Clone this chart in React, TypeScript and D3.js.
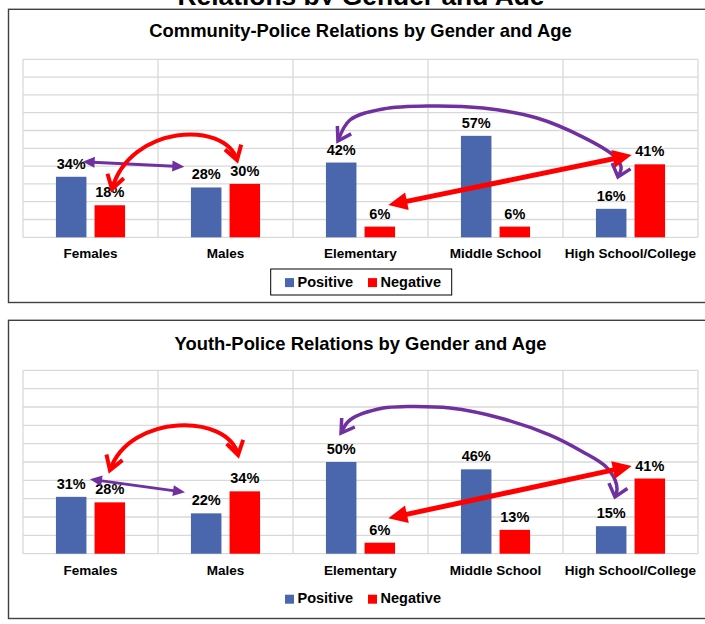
import React from 'react';
import * as d3 from 'd3';

// ---- data -------------------------------------------------------------
const categories = ['Females', 'Males', 'Elementary', 'Middle School', 'High School/College'];
const seriesNames = ['Positive', 'Negative'];

const communityPositive = [34, 28, 42, 57, 16];
const communityNegative = [18, 30, 6, 6, 41];

const youthPositive = [31, 22, 50, 46, 15];
const youthNegative = [28, 34, 6, 13, 41];

const yTicks = [0, 10, 20, 30, 40, 50, 60, 70, 80, 90, 100];

// Annotation arrows, in chart units: [category position (0..5), percent]
type Pt = [number, number];

const communityGenderLink: Pt[] = [[0.442, 42.5], [1.195, 39.7]];
const communityAgeLink: Pt[] = [[2.706, 18.1], [4.509, 46.2]];
const communityGenderArc: Pt[] = [[0.659, 27.1], [0.793, 63.1], [1.496, 65.9], [1.585, 43.4]];
const communityAgeArc: Pt[] = [
  [2.333, 54.1], [2.422, 65.9], [2.667, 72.1], [3.015, 73.8], [3.407, 72.6],
  [3.807, 67.0], [4.148, 56.3], [4.37, 46.2], [4.43, 39.5], [4.407, 33.9],
];

const youthGenderLink: Pt[] = [[0.496, 40.6], [1.2, 33.5]];
const youthAgeLink: Pt[] = [[2.706, 19.3], [4.509, 47.8]];
const youthGenderArc: Pt[] = [[0.644, 45.6], [0.793, 76.7], [1.519, 76.7], [1.593, 53.8]];
const youthAgeArc: Pt[] = [
  [2.356, 65.8], [2.422, 72.9], [2.667, 79.4], [2.844, 80.2], [3.163, 79.4],
  [3.533, 74.0], [3.904, 64.7], [4.148, 55.5], [4.311, 47.9], [4.385, 40.3],
  [4.4, 34.8], [4.385, 31.0],
];

// ---- styling ----------------------------------------------------------
const FONT = '"Liberation Sans", Arial, Helvetica, sans-serif';
const BLUE = '#4A66AC';
const RED = '#FF0000';
const PURPLE = '#7030A0';
const GRID = '#d9d9d9';
const PLOT_LEFT = 23;
const PLOT_RIGHT = 698;

type XY = [number, number];

function unit(dx: number, dy: number): XY {
  const l = Math.hypot(dx, dy) || 1;
  return [dx / l, dy / l];
}

function straightArrow(a: XY, b: XY, headLen: number, headHalf: number) {
  const [ux, uy] = unit(b[0] - a[0], b[1] - a[1]);
  const nx = -uy;
  const ny = ux;
  const head = (tip: XY, dx: number, dy: number) => {
    const bx = tip[0] - dx * headLen;
    const by = tip[1] - dy * headLen;
    return `M${tip[0]},${tip[1]}L${bx + nx * headHalf},${by + ny * headHalf}L${bx - nx * headHalf},${by - ny * headHalf}Z`;
  };
  const k = headLen * 0.85;
  const shaft = `M${a[0] + ux * k},${a[1] + uy * k}L${b[0] - ux * k},${b[1] - uy * k}`;
  return { shaft, heads: [head(a, -ux, -uy), head(b, ux, uy)] };
}

function chevron(tip: XY, from: XY, len: number, angleDeg: number) {
  const [ux, uy] = unit(from[0] - tip[0], from[1] - tip[1]);
  const rot = (ang: number): XY => [
    tip[0] + len * (ux * Math.cos(ang) - uy * Math.sin(ang)),
    tip[1] + len * (ux * Math.sin(ang) + uy * Math.cos(ang)),
  ];
  const a = (angleDeg * Math.PI) / 180;
  const p1 = rot(a);
  const p2 = rot(-a);
  return `M${p1[0]},${p1[1]}L${tip[0]},${tip[1]}L${p2[0]},${p2[1]}`;
}

interface PanelProps {
  frameTop: number;
  frameBottom: number;
  title: string;
  titleY: number;
  plotTop: number;
  plotBottom: number;
  catLabelY: number;
  legendY: number;
  legendBox: boolean;
  positive: number[];
  negative: number[];
  genderLink: Pt[];
  ageLink: Pt[];
  genderArc: Pt[];
  ageArc: Pt[];
}

function Panel(p: PanelProps) {
  const x0 = d3.scaleBand<string>().domain(categories).range([PLOT_LEFT, PLOT_RIGHT]);
  const xPos = d3.scaleLinear().domain([0, categories.length]).range([PLOT_LEFT, PLOT_RIGHT]);
  const y = d3.scaleLinear().domain([0, 100]).range([p.plotBottom, p.plotTop]);
  const bw = x0.bandwidth();
  const groupW = bw * 0.512;
  const x1 = d3
    .scaleBand<string>()
    .domain(seriesNames)
    .range([(bw - groupW) / 2, (bw + groupW) / 2])
    .paddingInner(0.21);

  const toPx = (pt: Pt): XY => [xPos(pt[0]), y(pt[1])];
  const values = [p.positive, p.negative];
  const colors = [BLUE, RED];
  const cx = (PLOT_LEFT + PLOT_RIGHT) / 2;

  // straight double-headed arrows
  const gl = straightArrow(toPx(p.genderLink[0]), toPx(p.genderLink[1]), 12, 5.5);
  const al = straightArrow(toPx(p.ageLink[0]), toPx(p.ageLink[1]), 19, 9);

  // red arc (cubic Bezier)
  const ga = p.genderArc.map(toPx);
  const gaPath = `M${ga[0][0]},${ga[0][1]}C${ga[1][0]},${ga[1][1]} ${ga[2][0]},${ga[2][1]} ${ga[3][0]},${ga[3][1]}`;

  // purple arc (smooth curve through points)
  const aa = p.ageArc.map(toPx);
  const aaPath = d3.line().curve(d3.curveCatmullRom.alpha(0.5))(aa) || '';
  const n = aa.length;

  return (
    <g>
      <rect
        x={8.5}
        y={p.frameTop}
        width={720}
        height={p.frameBottom - p.frameTop}
        fill="#fff"
        stroke="#404040"
        strokeWidth={1.4}
      />
      <text
        x={cx}
        y={p.titleY}
        textAnchor="middle"
        fontFamily={FONT}
        fontWeight="bold"
        fontSize={18.4}
        fill="#000"
      >
        {p.title}
      </text>

      {/* grid */}
      {yTicks.map((t) => (
        <line key={'h' + t} x1={PLOT_LEFT} x2={PLOT_RIGHT} y1={y(t)} y2={y(t)} stroke={GRID} strokeWidth={1.3} />
      ))}
      {[...categories.map((c) => x0(c) as number), PLOT_RIGHT].map((xv, i) => (
        <line key={'v' + i} x1={xv} x2={xv} y1={p.plotTop} y2={p.plotBottom} stroke={GRID} strokeWidth={1.3} />
      ))}

      {/* bars and value labels */}
      {categories.map((c, ci) =>
        seriesNames.map((s, si) => {
          const v = values[si][ci];
          const bx = (x0(c) as number) + (x1(s) as number);
          return (
            <g key={c + s}>
              <rect x={bx} y={y(v)} width={x1.bandwidth()} height={y(0) - y(v)} fill={colors[si]} />
              <text
                x={bx + x1.bandwidth() / 2}
                y={y(v) - 8}
                textAnchor="middle"
                fontFamily={FONT}
                fontWeight="bold"
                fontSize={14.5}
                fill="#000"
              >
                {v}%
              </text>
            </g>
          );
        })
      )}

      {/* category labels */}
      {categories.map((c) => (
        <text
          key={'l' + c}
          x={(x0(c) as number) + bw / 2}
          y={p.catLabelY}
          textAnchor="middle"
          fontFamily={FONT}
          fontWeight="bold"
          fontSize={13.5}
          fill="#000"
        >
          {c}
        </text>
      ))}

      {/* legend */}
      {p.legendBox && (
        <rect x={cx - 89.8} y={p.legendY - 17.7} width={181} height={26} fill="#fff" stroke="#000" strokeWidth={1} />
      )}
      {seriesNames.map((s, si) => {
        const sx = si === 0 ? cx - 75.5 : cx + 7.5;
        return (
          <g key={'lg' + s}>
            <rect x={sx} y={p.legendY - 8.6} width={9} height={9} fill={colors[si]} />
            <text x={sx + 12.5} y={p.legendY} fontFamily={FONT} fontWeight="bold" fontSize={14.5} fill="#000">
              {s}
            </text>
          </g>
        );
      })}

      {/* annotation arrows */}
      <path d={gl.shaft} stroke={PURPLE} strokeWidth={3} fill="none" />
      {gl.heads.map((d, i) => (
        <path key={'gh' + i} d={d} fill={PURPLE} />
      ))}

      <path d={gaPath} stroke={RED} strokeWidth={4} fill="none" />
      <path d={chevron(ga[0], ga[1], 16, 32)} stroke={RED} strokeWidth={4} fill="none" strokeLinejoin="miter" />
      <path d={chevron(ga[3], ga[2], 16, 32)} stroke={RED} strokeWidth={4} fill="none" strokeLinejoin="miter" />

      <path d={aaPath} stroke={PURPLE} strokeWidth={3.5} fill="none" />
      <path d={chevron(aa[0], aa[1], 15, 32)} stroke={PURPLE} strokeWidth={3.5} fill="none" />
      <path d={chevron(aa[n - 1], aa[n - 2], 15, 40)} stroke={PURPLE} strokeWidth={3.5} fill="none" />

      <path d={al.shaft} stroke={RED} strokeWidth={5} fill="none" />
      {al.heads.map((d, i) => (
        <path key={'ah' + i} d={d} fill={RED} />
      ))}
    </g>
  );
}

export default function App() {
  return (
    <svg
      width={705}
      height={624}
      viewBox="0 0 705 624"
      style={{ position: 'absolute', left: 0, top: 0, display: 'block', background: '#fff' }}
    >
      <defs>
        <clipPath id="headerClip">
          <rect x={0} y={-40} width={705} height={45} />
        </clipPath>
      </defs>
      <rect x={0} y={0} width={705} height={624} fill="#fff" />
      {/* page heading above the panels, running off the top of the page */}
      <text
        x={361}
        y={4.7}
        textAnchor="middle"
        fontFamily={FONT}
        fontWeight="bold"
        fontSize={26.4}
        fill="#000"
        clipPath="url(#headerClip)"
      >
        Relations by Gender and Age
      </text>

      <Panel
        frameTop={9.3}
        frameBottom={302.5}
        title="Community-Police Relations by Gender and Age"
        titleY={36.7}
        plotTop={59.3}
        plotBottom={237.3}
        catLabelY={258.3}
        legendY={286.7}
        legendBox={true}
        positive={communityPositive}
        negative={communityNegative}
        genderLink={communityGenderLink}
        ageLink={communityAgeLink}
        genderArc={communityGenderArc}
        ageArc={communityAgeArc}
      />

      <Panel
        frameTop={320.3}
        frameBottom={618.5}
        title="Youth-Police Relations by Gender and Age"
        titleY={350}
        plotTop={370.3}
        plotBottom={553.7}
        catLabelY={575}
        legendY={603.3}
        legendBox={false}
        positive={youthPositive}
        negative={youthNegative}
        genderLink={youthGenderLink}
        ageLink={youthAgeLink}
        genderArc={youthGenderArc}
        ageArc={youthAgeArc}
      />
    </svg>
  );
}
